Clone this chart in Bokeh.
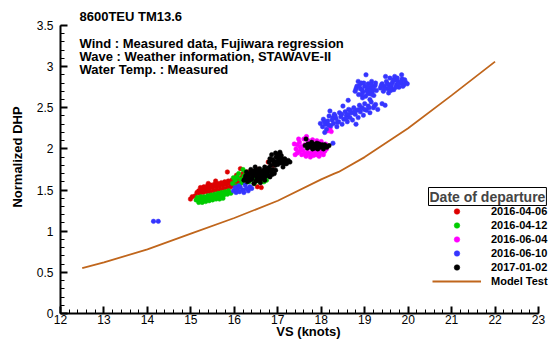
from bokeh.plotting import figure
from bokeh.models import (Range1d, SingleIntervalTicker, Label, Legend, LegendItem,
                          CustomJSTickFormatter)
from bokeh.embed import file_html
from bokeh.resources import INLINE

# ---------------- data ----------------
series_names = ["2016-04-06", "2016-04-12", "2016-06-04", "2016-06-10", "2017-01-02"]

red_x = [15.22, 15.30, 15.38, 15.46, 15.54, 15.62, 15.70, 15.78, 15.86, 15.94, 16.02, 16.10, 16.18, 16.26,
         15.18, 15.26, 15.34, 15.42, 15.50, 15.58, 15.66, 15.74, 15.82, 15.90, 15.98, 16.06, 16.14, 16.22, 16.30,
         15.20, 15.28, 15.36, 15.44, 15.52, 15.60, 15.68, 15.76, 15.84, 15.92, 16.00, 16.08,
         14.99, 15.03, 15.10, 15.14, 15.40, 15.57, 15.84, 16.14, 16.40, 16.45, 16.55, 16.78,
         16.53, 16.62, 16.05, 16.20, 16.30, 16.90]
red_y = [1.53, 1.54, 1.55, 1.56, 1.57, 1.58, 1.59, 1.60, 1.61, 1.62, 1.63, 1.64, 1.66, 1.67,
         1.49, 1.50, 1.51, 1.52, 1.53, 1.54, 1.55, 1.56, 1.57, 1.58, 1.59, 1.60, 1.61, 1.62, 1.63,
         1.46, 1.47, 1.48, 1.48, 1.49, 1.50, 1.51, 1.52, 1.53, 1.54, 1.55, 1.56,
         1.39, 1.42, 1.43, 1.47, 1.58, 1.61, 1.72, 1.76, 1.68, 1.72, 1.75, 1.84,
         1.54, 1.53, 1.68, 1.70, 1.72, 1.80]

green_x = [15.15, 15.23, 15.31, 15.39, 15.47, 15.55, 15.63, 15.71, 15.79, 15.87,
           15.12, 15.20, 15.28, 15.36, 15.44, 15.52, 15.60, 15.68, 15.76, 15.84, 15.92,
           15.18, 15.26, 15.34, 15.42, 15.50, 15.58, 15.66, 15.74,
           15.96, 16.02, 16.06, 16.10, 16.14, 16.18, 16.22, 16.26, 16.30, 16.34, 16.38,
           16.42, 16.46, 16.50, 16.56, 16.62, 16.68, 16.74, 16.20, 16.05, 16.12, 15.98]
green_y = [1.41, 1.42, 1.42, 1.43, 1.44, 1.45, 1.46, 1.47, 1.48, 1.49,
           1.38, 1.38, 1.39, 1.40, 1.41, 1.41, 1.42, 1.43, 1.44, 1.45, 1.46,
           1.35, 1.35, 1.36, 1.37, 1.38, 1.39, 1.39, 1.40,
           1.58, 1.62, 1.66, 1.70, 1.63, 1.59, 1.67, 1.72, 1.64, 1.60, 1.68,
           1.63, 1.58, 1.66, 1.61, 1.63, 1.60, 1.62, 1.75, 1.55, 1.56, 1.65]

magenta_x = [17.38, 17.42, 17.45, 17.50, 17.52, 17.55, 17.58, 17.62, 17.65, 17.68, 17.72, 17.75,
             17.78, 17.82, 17.85, 17.88, 17.92, 17.95, 18.00, 18.05, 17.48, 17.60, 17.70, 17.80,
             17.90, 18.00, 18.10, 18.12, 17.40, 17.66, 18.15, 18.20, 18.23, 17.55, 17.45,
             17.50, 17.62, 17.72, 17.85, 17.98, 18.08]
magenta_y = [2.06, 2.00, 1.95, 2.08, 2.02, 1.93, 1.98, 2.05, 1.91, 1.96, 2.01, 1.90,
             1.95, 1.92, 1.98, 1.93, 1.96, 1.91, 1.95, 1.93, 2.12, 2.12, 2.10, 2.11,
             2.10, 2.09, 2.06, 2.00, 1.93, 2.15, 2.22, 2.25, 2.21, 2.03, 2.05,
             1.97, 1.94, 1.94, 1.95, 1.98, 1.97]

blue_x = [15.98, 16.04, 16.06, 16.12, 16.14, 16.20, 16.22, 16.28, 16.32, 16.36, 16.10, 16.25, 16.40, 16.02,
          14.14, 14.25, 18.27,
          17.98, 18.03, 18.05, 18.10, 18.12, 18.15, 18.18, 18.22, 18.25, 18.28, 18.30, 18.34, 18.36,
          18.40, 18.42, 18.45, 18.48, 18.52, 18.55, 18.58, 18.60, 18.63, 18.66, 18.70, 18.72, 18.75,
          18.78, 18.82, 18.85, 18.88, 18.90, 18.94, 18.97, 19.00, 19.04, 19.08, 19.12, 19.15, 19.20,
          19.25, 19.30, 18.20, 18.50, 18.80, 19.40, 18.08, 19.47, 18.62,
          18.07, 18.17, 18.27, 18.37, 18.47, 18.57, 18.67, 18.77, 18.87, 18.99, 19.10, 19.22, 18.62, 18.32,
          18.78, 18.82, 18.86, 18.90, 18.92, 18.96, 19.00, 19.02, 19.05, 19.08, 19.10, 19.13, 19.16,
          19.18, 19.21, 19.24, 19.27, 18.85, 19.03, 19.12, 18.95,
          18.80, 18.88, 18.94, 18.98, 19.06, 19.10, 19.15, 19.20, 19.25, 18.93, 19.07, 19.17,
          19.36, 19.40, 19.43, 19.46, 19.50, 19.53, 19.56, 19.58, 19.61, 19.64, 19.67, 19.70, 19.73,
          19.76, 19.79, 19.82, 19.86, 19.90, 19.94, 19.98, 19.55, 19.48, 19.69, 19.85,
          19.38, 19.45, 19.52, 19.57, 19.62, 19.66, 19.72, 19.78, 19.84, 19.88, 19.92, 19.60, 19.75]
blue_y = [1.49, 1.47, 1.51, 1.48, 1.53, 1.50, 1.47, 1.52, 1.49, 1.54, 1.55, 1.56, 1.52, 1.53,
          1.12, 1.12, 2.07,
          2.31, 2.27, 2.36, 2.30, 2.24, 2.34, 2.40, 2.28, 2.35, 2.31, 2.42, 2.37, 2.27,
          2.33, 2.44, 2.39, 2.30, 2.36, 2.45, 2.41, 2.33, 2.48, 2.38, 2.44, 2.35, 2.50,
          2.42, 2.47, 2.38, 2.53, 2.45, 2.50, 2.41, 2.55, 2.47, 2.52, 2.44, 2.57, 2.50,
          2.54, 2.48, 2.46, 2.52, 2.30, 2.55, 2.20, 2.53, 2.59,
          2.33, 2.29, 2.38, 2.32, 2.42, 2.37, 2.47, 2.45, 2.48, 2.48, 2.50, 2.52, 2.42, 2.40,
          2.70, 2.76, 2.66, 2.73, 2.80, 2.69, 2.76, 2.64, 2.71, 2.79, 2.67, 2.74, 2.82,
          2.70, 2.65, 2.77, 2.71, 2.82, 2.90, 2.60, 2.62,
          2.73, 2.77, 2.72, 2.80, 2.75, 2.71, 2.78, 2.74, 2.80, 2.66, 2.68, 2.66,
          2.74, 2.79, 2.70, 2.76, 2.82, 2.73, 2.78, 2.86, 2.75, 2.81, 2.72, 2.84, 2.78,
          2.82, 2.75, 2.80, 2.85, 2.78, 2.81, 2.79, 2.68, 2.88, 2.88, 2.90,
          2.77, 2.73, 2.79, 2.74, 2.78, 2.84, 2.75, 2.79, 2.82, 2.76, 2.84, 2.71, 2.86]

black_x = [16.22, 16.26, 16.30, 16.33, 16.36, 16.40, 16.43, 16.46, 16.50, 16.52, 16.55, 16.58, 16.61,
           16.64, 16.67, 16.70, 16.73, 16.76, 16.79, 16.82, 16.85, 16.88, 16.92, 16.28, 16.45, 16.60,
           16.38, 16.95, 16.48, 16.70,
           16.25, 16.32, 16.35, 16.42, 16.48, 16.53, 16.57, 16.63, 16.66, 16.72, 16.78, 16.83, 16.87,
           16.58, 16.68, 16.75, 16.40, 16.52,
           16.80, 16.84, 16.88, 16.92, 16.96, 17.00, 17.04, 17.08, 17.12, 17.16, 17.20, 17.24, 17.28,
           16.95, 17.05, 17.12, 16.86,
           16.82, 16.90, 16.98, 17.02, 17.06, 17.10, 17.14, 17.18, 17.22, 16.94, 17.00,
           17.63, 17.68, 17.70, 17.75, 17.80, 17.82, 17.87, 17.92, 17.95, 18.00, 18.05, 18.08, 18.13,
           18.18, 17.78, 17.90, 17.65,
           17.72, 17.77, 17.85, 17.90, 17.97, 18.02, 18.10, 17.68]
black_y = [1.62, 1.67, 1.60, 1.65, 1.70, 1.63, 1.68, 1.73, 1.61, 1.66, 1.71, 1.76, 1.64,
           1.69, 1.74, 1.62, 1.67, 1.72, 1.77, 1.66, 1.71, 1.75, 1.70, 1.72, 1.58, 1.59,
           1.75, 1.74, 1.78, 1.78,
           1.64, 1.68, 1.62, 1.66, 1.70, 1.63, 1.68, 1.72, 1.66, 1.70, 1.68, 1.74, 1.69,
           1.62, 1.64, 1.75, 1.72, 1.74,
           1.84, 1.80, 1.87, 1.83, 1.90, 1.81, 1.86, 1.92, 1.84, 1.88, 1.82, 1.86, 1.84,
           1.95, 1.96, 1.78, 1.93,
           1.88, 1.85, 1.85, 1.89, 1.83, 1.88, 1.82, 1.85, 1.84, 1.80, 1.93,
           2.04, 2.01, 2.06, 2.03, 2.00, 2.06, 2.03, 2.00, 2.06, 2.03, 2.00, 2.05, 2.02,
           2.04, 2.08, 2.07, 2.12,
           2.03, 2.05, 2.01, 2.04, 2.02, 2.05, 2.03, 2.05]

model_vs = [12.5, 13.0, 14.0, 15.0, 16.0, 17.0, 18.0, 18.3, 18.4, 19.0, 20.0, 21.0, 22.0]
model_dhp = [0.55, 0.62, 0.78, 0.97, 1.16, 1.37, 1.63, 1.70, 1.72, 1.90, 2.25, 2.65, 3.06]

x_axis_span = (12, 23)
y_axis_span = (0, 3.5)
y_ticks = [0, 0.5, 1, 1.5, 2, 2.5, 3, 3.5]
y_tick_labels = ["0", "0.5", "1", "1.5", "2", "2.5", "3", "3.5"]

header_lines = ["8600TEU TM13.6",
                "Wind : Measured data, Fujiwara regression",
                "Wave : Weather information, STAWAVE-II",
                "Water Temp. : Measured"]

# ---------------- figure ----------------
FONT = "Liberation Sans"

# the frame reaches the top and right edges of the canvas so that the header
# texts and the legend title (which lie outside the axes box) are not clipped;
# the axes themselves are bounded to 12..23 and 0..3.5
p = figure(width=556, height=341, output_backend="svg", toolbar_location=None,
           x_range=Range1d(12, 23.414), y_range=Range1d(0, 3.803),
           min_border_left=60, min_border_right=0, min_border_top=0, min_border_bottom=27)
p.xgrid.visible = False
p.ygrid.visible = False
p.outline_line_color = None
p.background_fill_color = "white"
p.border_fill_color = "white"

xa = p.xaxis[0]
ya = p.yaxis[0]
xa.bounds = x_axis_span
ya.bounds = y_axis_span
xa.ticker = SingleIntervalTicker(interval=1, num_minor_ticks=5)
ya.ticker = SingleIntervalTicker(interval=0.5, num_minor_ticks=5)
ya.formatter = CustomJSTickFormatter(args=dict(yt=y_ticks, yl=y_tick_labels), code="""
    for (let i = 0; i < yt.length; i++) {
        if (Math.abs(yt[i] - tick) < 1e-9) return yl[i];
    }
    return '';
""")
xa.axis_label = "VS (knots)"
ya.axis_label = "Normalized DHP"
for ax in (xa, ya):
    ax.axis_line_color = "black"
    ax.axis_line_width = 2
    ax.major_tick_line_color = "black"
    ax.major_tick_line_width = 2
    ax.minor_tick_line_color = "black"
    ax.minor_tick_line_width = 1
    ax.major_tick_in = 7
    ax.major_tick_out = 0
    ax.minor_tick_in = 4
    ax.minor_tick_out = 0
    ax.major_label_text_font = FONT
    ax.major_label_text_font_size = "12px"
    ax.major_label_text_color = "black"
    ax.axis_label_text_font = FONT
    ax.axis_label_text_font_size = "13px"
    ax.axis_label_text_font_style = "bold"
    ax.axis_label_text_color = "black"
xa.major_label_standoff = 1
xa.axis_label_standoff = -3
ya.major_label_standoff = 7
ya.axis_label_standoff = 9

colors = ["#dd0000", "#00cc00", "#ff00ff", "#3535ff", "black"]
data = [(red_x, red_y), (green_x, green_y), (magenta_x, magenta_y), (blue_x, blue_y), (black_x, black_y)]
renderers = []
for (xs, ys), c in zip(data, colors):
    r = p.scatter(xs, ys, size=4.5, fill_color=c, line_color=c, line_width=0.5)
    renderers.append(r)
line_r = p.line(model_vs, model_dhp, line_color="#c0661c", line_width=1.8)

items = [LegendItem(label=n, renderers=[r]) for n, r in zip(series_names, renderers)]
items.append(LegendItem(label="Model Test", renderers=[line_r]))
legend = Legend(items=items, location=(372, 25), orientation="vertical",
                label_text_font=FONT, label_text_font_style="bold", label_text_font_size="11px",
                label_text_color="black",
                glyph_width=49, glyph_height=14, label_height=14, spacing=0,
                padding=0, margin=0, label_standoff=10,
                border_line_color=None, background_fill_alpha=0)
p.add_layout(legend)

title_lbl = Label(x=368, y=117, x_units="screen", y_units="screen", text="Date of departure",
                  text_font=FONT, text_font_style="bold", text_font_size="14px",
                  text_baseline="middle", text_align="left",
                  border_line_color="black", border_line_width=1,
                  background_fill_color="white", padding=1)
p.add_layout(title_lbl)

header_y = [297, 270, 257, 244]
for txt, yy in zip(header_lines, header_y):
    p.add_layout(Label(x=19, y=yy, x_units="screen", y_units="screen", text=txt,
                       text_font=FONT, text_font_style="bold", text_font_size="13px",
                       text_baseline="middle", text_align="left", text_color="black"))

open("out.html", "w").write(file_html(p, INLINE))
